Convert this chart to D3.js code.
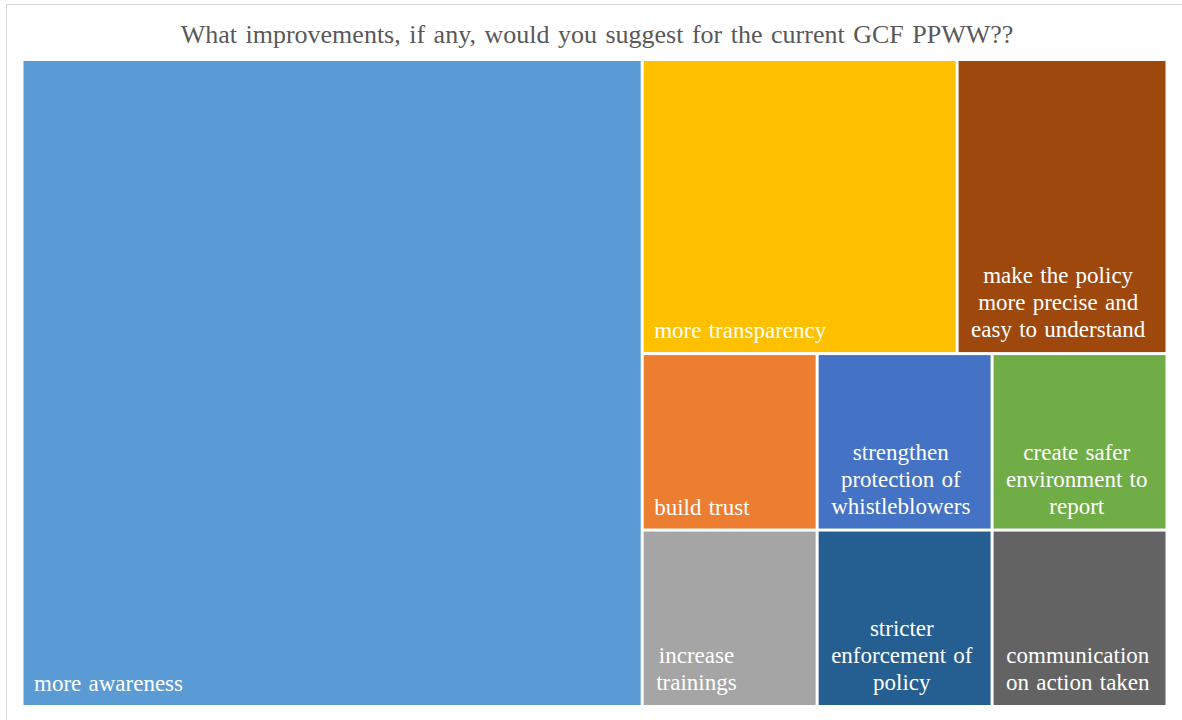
<!DOCTYPE html>
<html>
<head>
<meta charset="utf-8">
<script src="https://cdn.jsdelivr.net/npm/d3@7"></script>
<style>
  html, body { margin: 0; padding: 0; background: #ffffff; }
  svg { display: block; }
</style>
</head>
<body>
<svg id="chart" width="1182" height="720"></svg>
<script>
// Survey answers and their counts
const titleText = "What improvements, if any, would you suggest for the current GCF PPWW??";

const categories = [
  "more awareness",
  "more transparency",
  "make the policy more precise and easy to understand",
  "build trust",
  "increase trainings",
  "strengthen protection of whistleblowers",
  "stricter enforcement of policy",
  "create safer environment to report",
  "communication on action taken"
];
const counts = [13, 3, 2, 1, 1, 1, 1, 1, 1];
const colors = [
  "#5B9BD5", "#FFC000", "#9E480E", "#ED7D31", "#A5A5A5",
  "#4472C4", "#255E91", "#70AD47", "#636363"
];

// Grouping of tiles: big tile on the left, then a top row of two
// and three columns of two underneath
const groups = [
  [0],
  [[1, 2], [[3, 4], [5, 6], [7, 8]]]
];

function build(g) {
  if (typeof g === "number") {
    return { name: categories[g], value: counts[g], color: colors[g] };
  }
  return { children: g.map(build) };
}

const svg = d3.select("#chart");

// outer frame
svg.append("rect")
  .attr("x", 6.5).attr("y", 4.5)
  .attr("width", 1200).attr("height", 740)
  .attr("fill", "#ffffff")
  .attr("stroke", "#d9d9d9")
  .attr("stroke-width", 1);

svg.append("text")
  .attr("x", 597).attr("y", 43)
  .attr("text-anchor", "middle")
  .attr("font-family", "'Liberation Serif', 'Times New Roman', serif")
  .attr("font-size", 26)
  .attr("word-spacing", 2)
  .attr("fill", "#595959")
  .text(titleText);

const root = d3.hierarchy(build(groups)).sum(d => d.value || 0);

d3.treemap()
  .tile(d3.treemapSliceDice)
  .size([1142, 644])
  .paddingInner(3)
  .round(false)(root);

const g = svg.append("g").attr("transform", "translate(23.5,61)");

const leaf = g.selectAll("g.leaf")
  .data(root.leaves())
  .join("g")
  .attr("class", "leaf");

leaf.append("rect")
  .attr("x", d => d.x0)
  .attr("y", d => d.y0)
  .attr("width", d => d.x1 - d.x0)
  .attr("height", d => d.y1 - d.y0)
  .attr("fill", d => d.data.color);

const fontSize = 23;
const lineHeight = 27;

leaf.each(function(d) {
  const sel = d3.select(this);
  const text = sel.append("text")
    .attr("font-family", "'Liberation Serif', 'Times New Roman', serif")
    .attr("font-size", fontSize)
    .attr("word-spacing", 1.5)
    .attr("fill", "#ffffff");

  const maxW = (d.x1 - d.x0) - 2 * 11;
  const words = d.data.name.split(" ");
  const lines = [];
  let current = [];
  const probe = text.append("tspan");
  words.forEach(w => {
    const trial = current.concat([w]).join(" ");
    probe.text(trial);
    if (current.length && probe.node().getComputedTextLength() > maxW) {
      lines.push(current.join(" "));
      current = [w];
    } else {
      current.push(w);
    }
  });
  lines.push(current.join(" "));

  const widths = lines.map(l => {
    probe.text(l);
    return probe.node().getComputedTextLength();
  });
  probe.remove();

  const multi = lines.length > 1;
  const blockW = d3.max(widths);
  const padX = multi ? 12.5 : 10.5;
  const bottom = d.y1 - (multi ? 15 : 14);
  const cx = d.x0 + padX + blockW / 2;

  lines.forEach((l, i) => {
    text.append("tspan")
      .attr("x", multi ? cx : d.x0 + padX)
      .attr("y", bottom - (lines.length - 1 - i) * lineHeight)
      .attr("text-anchor", multi ? "middle" : "start")
      .text(l);
  });
});
</script>
</body>
</html>
